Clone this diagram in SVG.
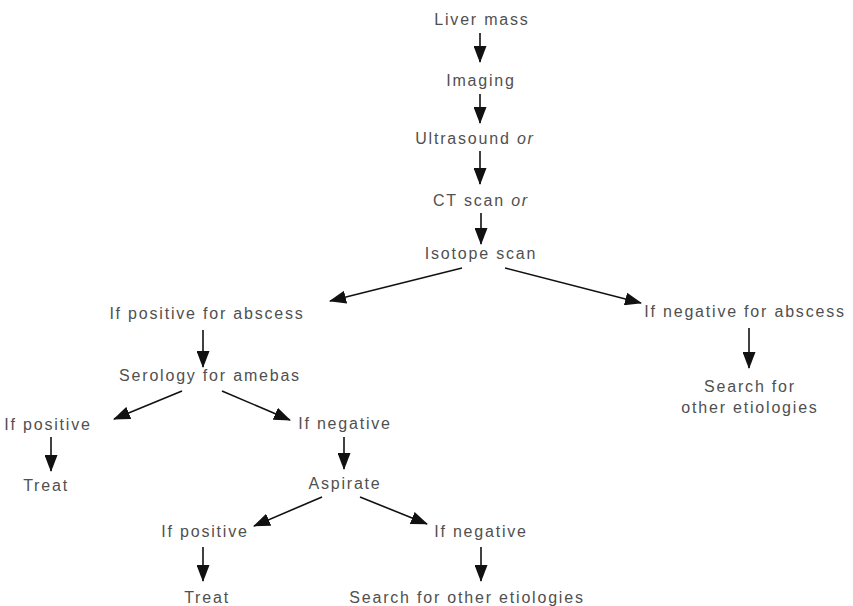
<svg xmlns="http://www.w3.org/2000/svg" width="853" height="606" viewBox="0 0 853 606">
<style>
text{font-family:"Liberation Sans",Arial,sans-serif;font-size:16px;fill:#505050;text-anchor:middle;letter-spacing:1.8px}
.c line{stroke:#111;stroke-width:1.6;marker-end:url(#ah)}
</style>
<defs>
<marker id="ah" markerUnits="userSpaceOnUse" markerWidth="17" markerHeight="13" viewBox="0 0 17 13" refX="16" refY="6.5" orient="auto">
<path d="M0,0 L17,6.5 L0,13 Z" fill="#111"/>
</marker>
</defs>
<rect width="853" height="606" fill="#fff"/>
<g id="n-liver"><text x="482" y="25">Liver mass</text></g>
<g id="n-imaging"><text x="481" y="86">Imaging</text></g>
<g id="n-us"><text x="475" y="144">Ultrasound <tspan font-style="italic">or</tspan></text></g>
<g id="n-ct"><text x="481" y="206">CT scan <tspan font-style="italic">or</tspan></text></g>
<g id="n-iso"><text x="481" y="259">Isotope scan</text></g>
<g id="n-pos-abs"><text x="207" y="319">If positive for abscess</text></g>
<g id="n-neg-abs"><text x="745" y="317">If negative for abscess</text></g>
<g id="n-serology"><text x="210" y="381">Serology for amebas</text></g>
<g id="n-search1"><text x="750" y="392">Search for</text><text x="750" y="413">other etiologies</text></g>
<g id="n-pos1"><text x="48" y="430">If positive</text></g>
<g id="n-neg1"><text x="345" y="429">If negative</text></g>
<g id="n-treat1"><text x="46" y="491">Treat</text></g>
<g id="n-aspirate"><text x="345" y="489">Aspirate</text></g>
<g id="n-pos2"><text x="205" y="537">If positive</text></g>
<g id="n-neg2"><text x="481" y="537">If negative</text></g>
<g id="n-treat2"><text x="207" y="603">Treat</text></g>
<g id="n-search2"><text x="467" y="603">Search for other etiologies</text></g>
<g id="connectors" class="c">
<line x1="480" y1="33" x2="480" y2="62"/>
<line x1="480" y1="94" x2="480" y2="123"/>
<line x1="480" y1="151" x2="480" y2="184"/>
<line x1="481" y1="213" x2="481" y2="244"/>
<line x1="462" y1="268" x2="330" y2="301"/>
<line x1="505" y1="268" x2="641" y2="303"/>
<line x1="203" y1="330" x2="203" y2="367"/>
<line x1="749" y1="328" x2="749" y2="368"/>
<line x1="182" y1="391" x2="114" y2="419"/>
<line x1="222" y1="391" x2="290" y2="420"/>
<line x1="51" y1="437" x2="51" y2="471"/>
<line x1="344" y1="437" x2="344" y2="469"/>
<line x1="322" y1="497" x2="254" y2="526"/>
<line x1="360" y1="497" x2="427" y2="524"/>
<line x1="203" y1="547" x2="203" y2="581"/>
<line x1="481" y1="547" x2="481" y2="581"/>
</g>
</svg>
